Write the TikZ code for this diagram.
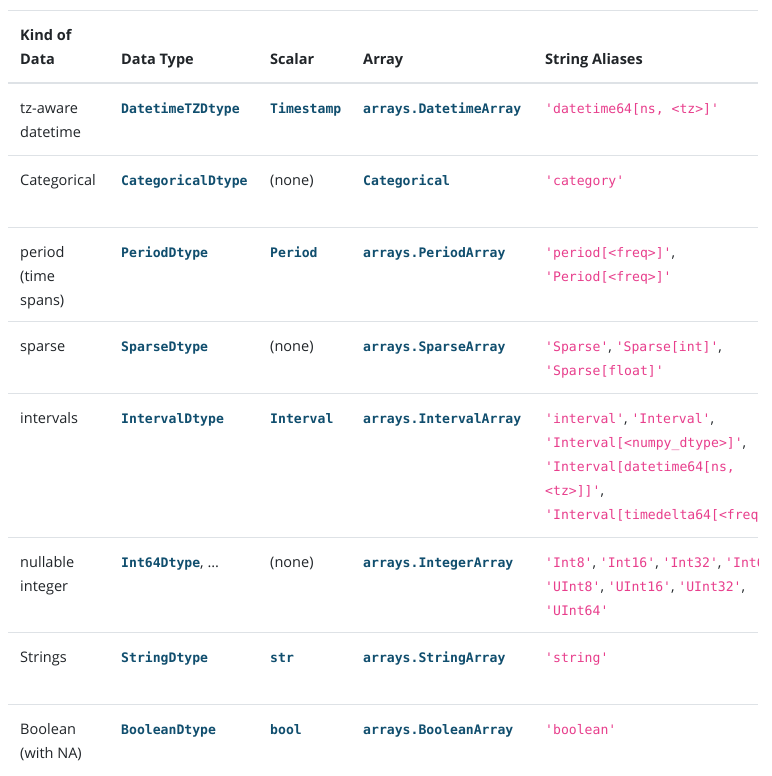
\documentclass[tikz,border=0pt]{standalone}
\usepackage{fontspec}
\setmainfont{Open Sans}
\setmonofont{DejaVu Sans Mono}
\usepackage{xcolor}
\usetikzlibrary{positioning}
\definecolor{pdblue}{RGB}{16, 78, 110}
\definecolor{pdpink}{RGB}{232, 62, 140}
\definecolor{pdtext}{RGB}{33, 37, 41}
\definecolor{pdrule}{RGB}{222, 226, 230}
\newcommand{\dtcode}[1]{{\ttfamily\bfseries\fontsize{11.2}{20.5}\selectfont\color{pdblue}#1}}
\newcommand{\stralias}[1]{{\ttfamily\fontsize{11.2}{20.5}\selectfont\color{pdpink}#1}}
\newcommand{\cellstack}[1]{\begin{tabular}[t]{@{}l@{}}#1\end{tabular}}

\begin{document}
\begin{tikzpicture}[x=0.03cm, y=-0.03cm,
    cell/.style={anchor=base west, inner sep=0pt, text=pdtext, font=\fontsize{12.4}{20.5}\selectfont},
    head/.style={cell, font=\fontsize{12.4}{20.5}\selectfont\bfseries}]
    \useasboundingbox (0,0) rectangle (771,776);
    \fill[white] (0,0) rectangle (771,776);
    \begin{scope}
    \clip (0,0) rectangle (758,776);

    % The Rules
    \draw[pdrule, line width=0.03cm] (8,10) -- (758,10);
    \draw[pdrule, line width=0.06cm] (8,83) -- (758,83);
    \foreach \y in {155,227,321,393,537,632,704} {
        \draw[pdrule, line width=0.03cm] (8,\y) -- (758,\y);
    }

    % Header
    \node[head] (hkind) at (20,40) {\cellstack{Kind of\\Data}};
    \node[head] (htype) at (121,64) {Data Type};
    \node[head] (hscalar) at (270,64) {Scalar};
    \node[head] (harray) at (363,64) {Array};
    \node[head] (halias) at (545,64) {String Aliases};

    % tz-aware datetime
    \node[cell] (kind1) at (20,113) {\cellstack{tz-aware\\datetime}};
    \node[cell] (type1) at (121,113) {\dtcode{DatetimeTZDtype}};
    \node[cell] (scalar1) at (270,113) {\dtcode{Timestamp}};
    \node[cell] (array1) at (363,113) {\dtcode{arrays.DatetimeArray}};
    \node[cell] (alias1) at (545,113) {\stralias{'datetime64[ns, <tz>]'}};

    % Categorical
    \node[cell] (kind2) at (20,185) {Categorical};
    \node[cell] (type2) at (121,185) {\dtcode{CategoricalDtype}};
    \node[cell] (scalar2) at (270,185) {(none)};
    \node[cell] (array2) at (363,185) {\dtcode{Categorical}};
    \node[cell] (alias2) at (545,185) {\stralias{'category'}};

    % period
    \node[cell] (kind3) at (20,257) {\cellstack{period\\(time\\spans)}};
    \node[cell] (type3) at (121,257) {\dtcode{PeriodDtype}};
    \node[cell] (scalar3) at (270,257) {\dtcode{Period}};
    \node[cell] (array3) at (363,257) {\dtcode{arrays.PeriodArray}};
    \node[cell] (alias3) at (545,257) {\cellstack{\stralias{'period[<freq>]'},\\\stralias{'Period[<freq>]'}}};

    % sparse
    \node[cell] (kind4) at (20,351) {sparse};
    \node[cell] (type4) at (121,351) {\dtcode{SparseDtype}};
    \node[cell] (scalar4) at (270,351) {(none)};
    \node[cell] (array4) at (363,351) {\dtcode{arrays.SparseArray}};
    \node[cell] (alias4) at (545,351) {\cellstack{\stralias{'Sparse'}, \stralias{'Sparse[int]'},\\\stralias{'Sparse[float]'}}};

    % intervals
    \node[cell] (kind5) at (20,423) {intervals};
    \node[cell] (type5) at (121,423) {\dtcode{IntervalDtype}};
    \node[cell] (scalar5) at (270,423) {\dtcode{Interval}};
    \node[cell] (array5) at (363,423) {\dtcode{arrays.IntervalArray}};
    \node[cell] (alias5) at (545,423) {\cellstack{\stralias{'interval'}, \stralias{'Interval'},\\\stralias{'Interval[<numpy\_dtype>]'},\\\stralias{'Interval[datetime64[ns,}\\\stralias{<tz>]]'},\\\stralias{'Interval[timedelta64[<freq>]]'}}};

    % nullable integer
    \node[cell] (kind6) at (20,567) {\cellstack{nullable\\integer}};
    \node[cell] (type6) at (121,567) {\dtcode{Int64Dtype}, \ldots};
    \node[cell] (scalar6) at (270,567) {(none)};
    \node[cell] (array6) at (363,567) {\dtcode{arrays.IntegerArray}};
    \node[cell] (alias6) at (545,567) {\cellstack{\stralias{'Int8'}, \stralias{'Int16'}, \stralias{'Int32'}, \stralias{'Int64'},\\\stralias{'UInt8'}, \stralias{'UInt16'}, \stralias{'UInt32'},\\\stralias{'UInt64'}}};

    % Strings
    \node[cell] (kind7) at (20,662) {Strings};
    \node[cell] (type7) at (121,662) {\dtcode{StringDtype}};
    \node[cell] (scalar7) at (270,662) {\dtcode{str}};
    \node[cell] (array7) at (363,662) {\dtcode{arrays.StringArray}};
    \node[cell] (alias7) at (545,662) {\stralias{'string'}};

    % Boolean
    \node[cell] (kind8) at (20,734) {\cellstack{Boolean\\(with NA)}};
    \node[cell] (type8) at (121,734) {\dtcode{BooleanDtype}};
    \node[cell] (scalar8) at (270,734) {\dtcode{bool}};
    \node[cell] (array8) at (363,734) {\dtcode{arrays.BooleanArray}};
    \node[cell] (alias8) at (545,734) {\stralias{'boolean'}};
    \end{scope}
\end{tikzpicture}
\end{document}
